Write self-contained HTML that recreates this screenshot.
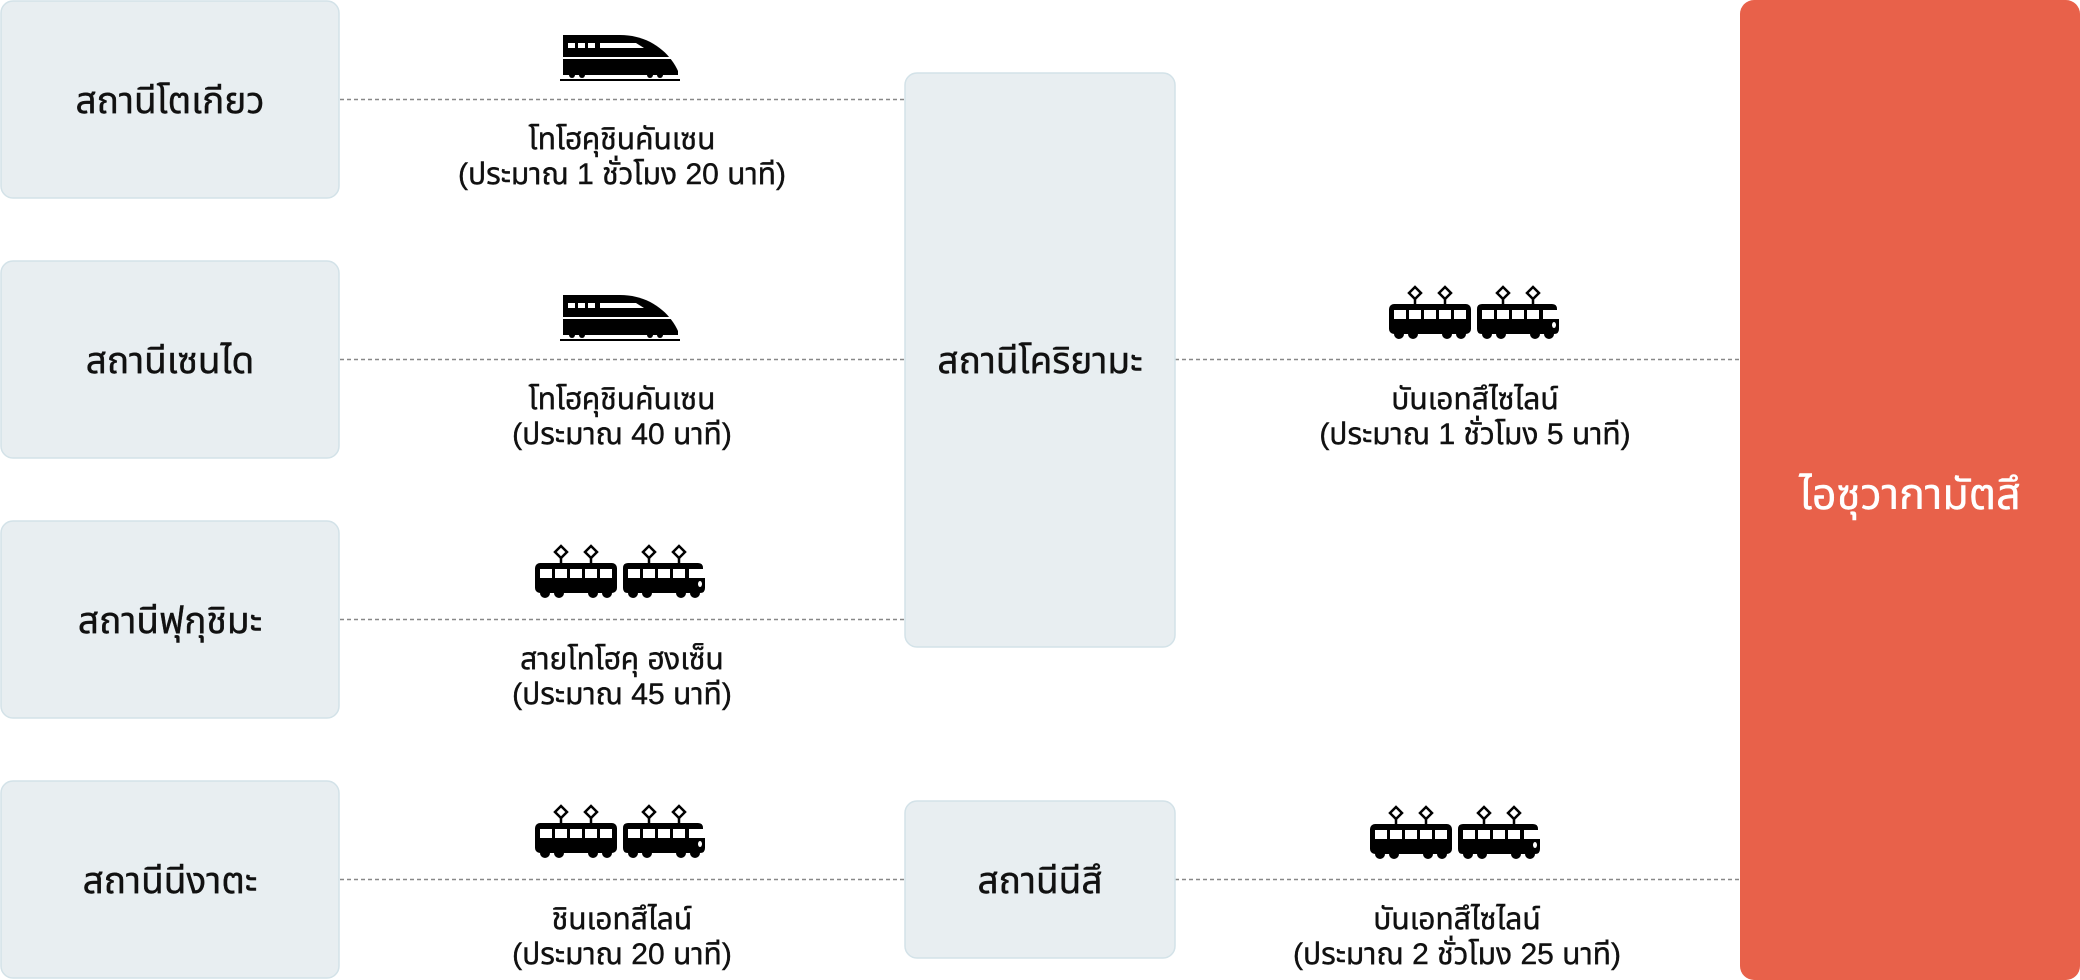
<!DOCTYPE html>
<html><head><meta charset="utf-8"><style>
html,body{margin:0;padding:0;background:#fff;width:2080px;height:980px;overflow:hidden}
svg text{font-family:"Liberation Sans","Noto Sans Thai","DejaVu Sans","Noto Sans CJK SC",sans-serif;fill:#111;stroke:#111;stroke-width:0.4}
</style></head><body>
<svg width="2080" height="980" viewBox="0 0 2080 980" xmlns="http://www.w3.org/2000/svg">
<defs>
<symbol id="shin" viewBox="0 0 120 48">
<path d="M3 2 H60 C90 2 110 20 118 38 L118 42 H3 Z" fill="#000"/>
<rect x="8" y="10" width="7" height="5" fill="#fff"/><rect x="18" y="10" width="7" height="5" fill="#fff"/><rect x="28" y="10" width="7" height="5" fill="#fff"/>
<path d="M40 10 H76 L84 15 H40 Z" fill="#fff"/>
<rect x="3" y="24" width="108" height="2" fill="#fff"/>
<circle cx="12" cy="42" r="3" fill="#000"/><circle cx="22" cy="42" r="3" fill="#000"/><circle cx="90" cy="42" r="3" fill="#000"/><circle cx="100" cy="42" r="3" fill="#000"/>
<rect x="0" y="46" width="120" height="2" fill="#000"/>
</symbol>
<symbol id="car" viewBox="0 0 82 60">
<path d="M20 12 l6 -6 l6 6 l-6 6 z M50 12 l6 -6 l6 6 l-6 6 z" fill="none" stroke="#000" stroke-width="2.5"/>
<path d="M26 18 v6 M56 18 v6" stroke="#000" stroke-width="2.5"/>
<rect x="0" y="23" width="82" height="30" rx="5" fill="#000"/>
<rect x="5" y="29" width="12" height="9" fill="#fff"/><rect x="20" y="29" width="12" height="9" fill="#fff"/><rect x="35" y="29" width="12" height="9" fill="#fff"/><rect x="50" y="29" width="12" height="9" fill="#fff"/><rect x="65" y="29" width="12" height="9" fill="#fff"/>
<circle cx="10" cy="53" r="5" fill="#000"/><circle cx="24" cy="53" r="5" fill="#000"/><circle cx="58" cy="53" r="5" fill="#000"/><circle cx="72" cy="53" r="5" fill="#000"/>
</symbol>
<symbol id="car2" viewBox="0 0 82 60">
<path d="M20 12 l6 -6 l6 6 l-6 6 z M50 12 l6 -6 l6 6 l-6 6 z" fill="none" stroke="#000" stroke-width="2.5"/>
<path d="M26 18 v6 M56 18 v6" stroke="#000" stroke-width="2.5"/>
<path d="M5 23 H75 Q80 23 80 28 V29 H66 V38 H82 V48 Q82 53 77 53 H5 Q0 53 0 48 V28 Q0 23 5 23 Z" fill="#000"/>
<rect x="5" y="29" width="12" height="9" fill="#fff"/><rect x="20" y="29" width="12" height="9" fill="#fff"/><rect x="35" y="29" width="12" height="9" fill="#fff"/><rect x="50" y="29" width="12" height="9" fill="#fff"/>
<ellipse cx="77" cy="44" rx="2" ry="3" fill="#fff"/>
<circle cx="10" cy="53" r="5" fill="#000"/><circle cx="24" cy="53" r="5" fill="#000"/><circle cx="58" cy="53" r="5" fill="#000"/><circle cx="72" cy="53" r="5" fill="#000"/>
</symbol>
<g id="train"><use href="#car" x="0" y="0" width="82" height="60"/><use href="#car2" x="88" y="0" width="82" height="60"/></g>
</defs>

<g stroke="#888" stroke-width="1.6" stroke-dasharray="4,3">
<line x1="340" y1="99.5" x2="905" y2="99.5"/>
<line x1="340" y1="359.5" x2="905" y2="359.5"/>
<line x1="340" y1="619.5" x2="905" y2="619.5"/>
<line x1="340" y1="879.5" x2="905" y2="879.5"/>
<line x1="1175" y1="359.5" x2="1740" y2="359.5"/>
<line x1="1175" y1="879.5" x2="1740" y2="879.5"/>
</g>

<g fill="#e8eef1" stroke="#d3e2e8" stroke-width="1.5">
<rect x="1" y="1" width="338" height="197" rx="12"/>
<rect x="1" y="261" width="338" height="197" rx="12"/>
<rect x="1" y="521" width="338" height="197" rx="12"/>
<rect x="1" y="781" width="338" height="197" rx="12"/>
<rect x="905" y="73" width="270" height="574" rx="12"/>
<rect x="905" y="801" width="270" height="157" rx="12"/>
</g>
<rect x="1740" y="0" width="340" height="980" rx="14" fill="#e8614a"/>

<g font-size="37" text-anchor="middle">
<text x="170" y="113">สถานีโตเกียว</text>
<text x="170" y="373">สถานีเซนได</text>
<text x="170" y="633">สถานีฟุกุชิมะ</text>
<text x="170" y="893">สถานีนีงาตะ</text>
<text x="1040" y="373">สถานีโคริยามะ</text>
<text x="1040" y="893">สถานีนีสึ</text>
<text x="1910" y="509" font-size="43" style="fill:#fff;stroke:#fff">ไอซุวากามัตสึ</text>
</g>

<use href="#shin" x="560" y="33" width="120" height="48"/>
<use href="#shin" x="560" y="293" width="120" height="48"/>
<use href="#train" x="535" y="540"/>
<use href="#train" x="535" y="800"/>
<use href="#train" x="1389" y="281"/>
<use href="#train" x="1370" y="801"/>

<g font-size="30" text-anchor="middle">
<text x="622" y="149">โทโฮคุชินคันเซน</text>
<text x="622" y="184">(ประมาณ 1 ชั่วโมง  20 นาที)</text>
<text x="622" y="409">โทโฮคุชินคันเซน</text>
<text x="622" y="444">(ประมาณ 40 นาที)</text>
<text x="622" y="669">สายโทโฮคุ ฮงเซ็น</text>
<text x="622" y="704">(ประมาณ 45 นาที)</text>
<text x="622" y="929">ชินเอทสึไลน์</text>
<text x="622" y="964">(ประมาณ 20 นาที)</text>
<text x="1475" y="409">บันเอทสึไซไลน์</text>
<text x="1475" y="444">(ประมาณ 1 ชั่วโมง 5 นาที)</text>
<text x="1457" y="929">บันเอทสึไซไลน์</text>
<text x="1457" y="964">(ประมาณ 2 ชั่วโมง 25 นาที)</text>
</g>
</svg>
</body></html>
